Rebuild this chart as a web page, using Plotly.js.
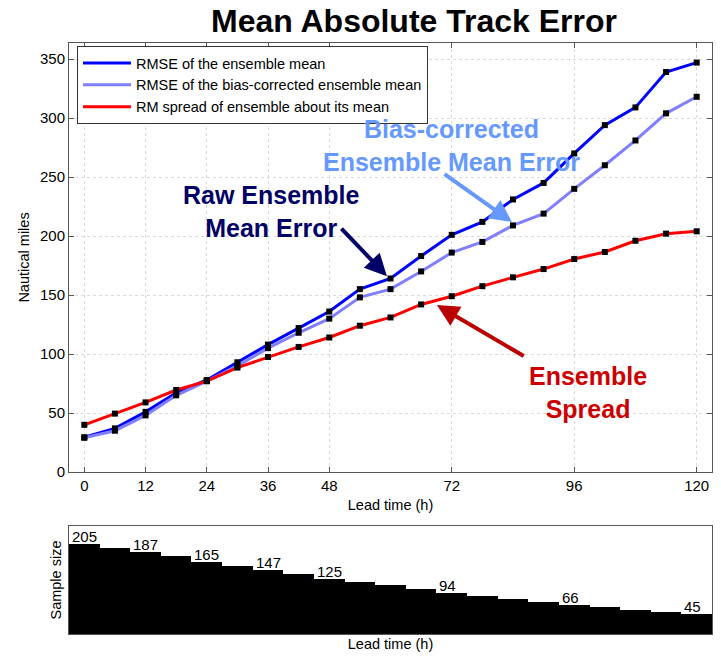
<!DOCTYPE html>
<html>
<head>
<meta charset="utf-8">
<script src="https://cdn.plot.ly/plotly-3.0.1.min.js"></script>
<style>
  html, body { margin: 0; padding: 0; background: #ffffff; }
  #chart { width: 721px; height: 656px; }
</style>
</head>
<body>
<div id="chart"></div>
<script>
// Lead times (hours) at which the verification was computed
const leadHours = [0, 6, 12, 18, 24, 30, 36, 42, 48, 54, 60, 66, 72, 78, 84, 90, 96, 102, 108, 114, 120];

// Track error statistics (nautical miles)
const rmseEnsMean = [29.5, 37, 51, 67, 78, 93, 108, 122, 136, 155, 164, 183, 201, 212, 231, 245, 270, 294, 309, 339, 347];
const rmseBiasCorrected = [29, 35, 48, 65, 77, 90, 105, 118, 130, 148, 155, 170, 186, 195, 209, 219, 240, 260, 281, 304, 318];
const rmSpread = [40, 49.5, 59, 69.5, 77, 88.5, 97.5, 106, 114, 124, 131, 142, 149, 157.5, 165, 172, 180.5, 186.5, 196, 202, 204];

// Number of verifying cases at each lead time
const sampleSize = [205, 197, 187, 178, 165, 156, 147, 137, 125, 118, 111, 103, 94, 86, 80, 73, 66, 61, 56, 51, 45];
// Lead times whose sample size is printed above the step
const labelledHours = [0, 12, 24, 36, 48, 72, 96, 120];

const seriesNames = [
  'RMSE of the ensemble mean',
  'RMSE of the bias-corrected ensemble mean',
  'RM spread of ensemble about its mean'
];
const tickHours = [0, 12, 24, 36, 48, 72, 96, 120];

const FONT = 'Arial, "Liberation Sans", Helvetica, sans-serif';
const series = [rmseEnsMean, rmseBiasCorrected, rmSpread];
const colors = ['#0000ff', '#7f7fff', '#ff0000'];

const traces = [];
// lines first
series.forEach((vals, i) => {
  traces.push({
    type: 'scatter', mode: 'lines', x: leadHours, y: vals,
    name: seriesNames[i], line: { color: colors[i], width: 3 },
    xaxis: 'x', yaxis: 'y', hoverinfo: 'x+y'
  });
});
// square markers drawn above every line
series.forEach((vals) => {
  traces.push({
    type: 'scatter', mode: 'markers', x: leadHours, y: vals,
    showlegend: false, marker: { symbol: 'square', size: 6, color: '#000000' },
    xaxis: 'x', yaxis: 'y', hoverinfo: 'skip'
  });
});
// sample size staircase
traces.push({
  type: 'bar', x: leadHours, y: sampleSize, width: leadHours.map(() => 6),
  marker: { color: '#000000', line: { width: 0 } },
  showlegend: false, xaxis: 'x2', yaxis: 'y2', hoverinfo: 'x+y'
});

const annotations = [];
// sample size labels, left-aligned on the step
labelledHours.forEach((h) => {
  const i = leadHours.indexOf(h);
  annotations.push({
    xref: 'x2', yref: 'y2', x: h - 3, y: sampleSize[i],
    text: String(sampleSize[i]), showarrow: false,
    xanchor: 'left', yanchor: 'bottom', xshift: 1, yshift: -3,
    font: { family: FONT, size: 15, color: '#000000' }
  });
});

// callout labels and arrows on the error panel
const callouts = [
  { text: 'Raw Ensemble<br>Mean Error', x: 36.7, y: 220.5, color: '#000066',
    tail: [50.1, 207.6], head: [59.3, 166], arrowColor: '#000066' },
  { text: 'Bias-corrected<br>Ensemble Mean Error', x: 72.0, y: 276.5, color: '#6699ff',
    tail: [70.3, 253.4], head: [83.8, 211.9], arrowColor: '#6699ff' },
  { text: 'Ensemble<br>Spread', x: 98.7, y: 67.5, color: '#cc0000',
    tail: [86.4, 97.5], head: [69.1, 141.5], arrowColor: '#bb0000' }
];
callouts.forEach((c) => {
  annotations.push({
    xref: 'x', yref: 'y', x: c.x, y: c.y, text: c.text, showarrow: false,
    xanchor: 'center', yanchor: 'middle', align: 'center',
    font: { family: FONT, size: 25, color: c.color, weight: 'bold' }
  });
  annotations.push({
    xref: 'x', yref: 'y', axref: 'x', ayref: 'y',
    x: c.head[0], y: c.head[1], ax: c.tail[0], ay: c.tail[1],
    text: '', showarrow: true, arrowhead: 2, arrowsize: 1.1, arrowwidth: 4,
    arrowcolor: c.arrowColor, standoff: 0, startstandoff: 0
  });
});

const axisCommon = {
  showline: true, linecolor: '#555555', linewidth: 1, mirror: 'ticks',
  ticks: 'inside', ticklen: 5, tickcolor: '#555555',
  tickfont: { family: FONT, size: 15, color: '#000000' },
  zeroline: false
};

const layout = {
  width: 721, height: 656,
  margin: { l: 69, r: 9, t: 43, b: 22, pad: 0 },
  paper_bgcolor: '#ffffff', plot_bgcolor: '#ffffff',
  font: { family: FONT, color: '#000000' },
  title: {
    text: 'Mean Absolute Track Error',
    font: { family: FONT, size: 32, color: '#000000', weight: 'bold' },
    x: 414 / 721, xanchor: 'center', xref: 'container',
    y: 1 - 21 / 656, yanchor: 'middle', yref: 'container'
  },
  showlegend: true,
  legend: {
    x: 0.0124, y: 0.9949, xanchor: 'left', yanchor: 'top',
    bgcolor: '#ffffff', bordercolor: '#333333', borderwidth: 1,
    font: { family: FONT, size: 14.5, color: '#000000' },
    itemwidth: 48, tracegroupgap: 0
  },
  xaxis: Object.assign({}, axisCommon, {
    domain: [0, 1], anchor: 'y', range: [-3, 123],
    tickvals: tickHours, ticktext: tickHours.map(String),
    showgrid: true, gridcolor: '#dadada', griddash: 'dot', gridwidth: 1,
    title: { text: 'Lead time (h)', font: { family: FONT, size: 14.5 }, standoff: 6 }
  }),
  yaxis: Object.assign({}, axisCommon, {
    domain: [0.2741, 1], anchor: 'x', range: [0, 363.6], dtick: 50, tick0: 0,
    showgrid: true, gridcolor: '#dadada', griddash: 'dot', gridwidth: 1,
    title: { text: 'Nautical miles', font: { family: FONT, size: 14.5 }, standoff: 6 }
  }),
  xaxis2: {
    domain: [0, 1], anchor: 'y2', range: [-3, 123],
    showline: true, linecolor: '#555555', mirror: true,
    showticklabels: false, ticks: '', showgrid: false, zeroline: false,
    title: { text: 'Lead time (h)', font: { family: FONT, size: 14.5 }, standoff: 4 }
  },
  yaxis2: {
    domain: [0, 0.1827], anchor: 'x2', range: [0, 247],
    showline: true, linecolor: '#555555', mirror: true,
    showticklabels: false, ticks: '', showgrid: false, zeroline: false,
    title: { text: 'Sample size', font: { family: FONT, size: 14.5 }, standoff: 2 }
  },
  bargap: 0,
  annotations: annotations
};

Plotly.newPlot('chart', traces, layout, { displayModeBar: false, staticPlot: true });
</script>
</body>
</html>
